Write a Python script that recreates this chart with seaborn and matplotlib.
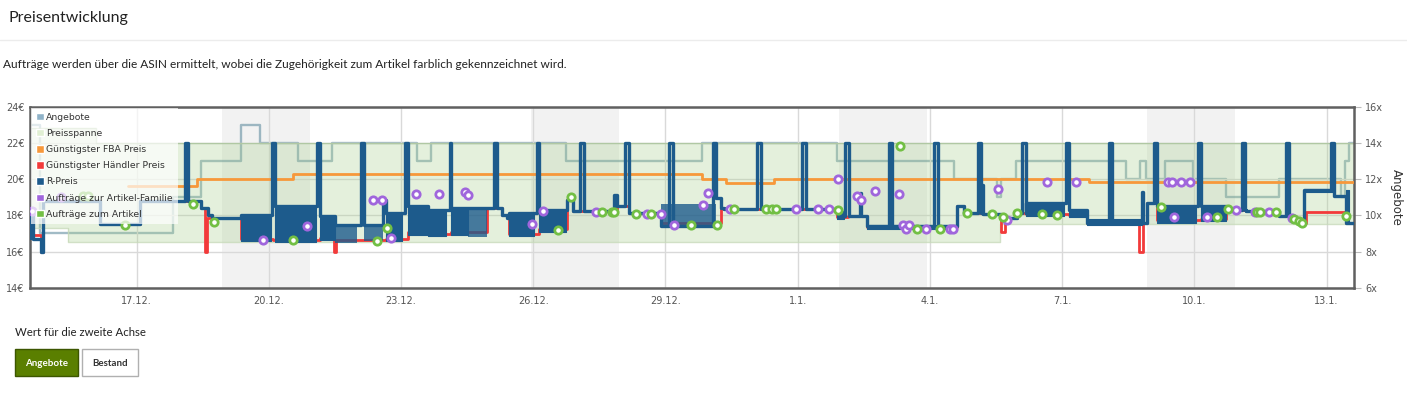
import numpy as np
import pandas as pd
import seaborn as sns
import matplotlib.pyplot as plt
from matplotlib.patches import Patch, Rectangle
from matplotlib.lines import Line2D

# days are offsets from 17.12.2020 00:00
START = pd.Timestamp('2020-12-17')

# R-Preis base steps (without the daily jumps to 22 €)
r_days = [-2.43, -2.36, -2.18, -2.13, -0.84, 0.07, 1.45, 1.61, 1.70, 2.36, 3.15, 4.15, 4.49,
          5.58, 5.65, 6.15, 6.60, 7.14, 8.30, 8.41, 8.46, 9.14, 9.77, 9.89, 10.84, 10.91, 11.18,
          11.90, 13.15, 13.27, 13.33, 15.90, 16.05, 16.42, 16.44, 16.58, 18.62, 18.78, 19.18,
          19.21, 19.61, 19.98, 20.18, 21.16, 21.56, 22.81, 22.83, 22.93, 23.15, 24.72, 25.17,
          25.92, 26.15, 26.28, 26.44, 26.49, 27.17, 27.44, 27.63]
r_prices = [18.3, 16.7, 16.0, 18.8, 17.5, 18.8, 18.4, 18.0, 17.87, 18.03, 18.5, 17.94, 17.48,
            18.86, 18.14, 18.5, 18.31, 18.4, 18.03, 17.87, 18.14, 18.31, 18.86, 18.22, 19.1, 18.5, 18.13,
            17.43, 18.97, 18.4, 18.35, 18.2, 17.94, 19.25, 17.94, 17.39, 18.5, 18.13, 19.7,
            18.09, 17.85, 18.13, 18.7, 18.3, 17.6, 19.3, 17.6, 18.68, 18.5, 18.31, 18.22,
            17.94, 17.9, 17.7, 17.57, 19.4, 19.05, 17.6, 17.6]
# moments where the R-Preis jumps to 22 € for a short time
spike_days = [1.09, 3.08, 4.10, 5.08, 6.10, 7.10, 8.10, 9.09, 10.07, 11.09, 12.09, 13.08, 14.08,
              15.10, 16.08, 17.07, 18.10, 19.09, 20.09, 21.09, 22.06, 23.08, 24.08, 25.08, 26.08, 27.10]
spike_price = 22.0
# phases of fast R-Preis changes: start, end, upper price, lower price
dense_blocks = [(-2.43, -2.36, 18.4, 16.7), (2.36, 3.04, 18.03, 16.56), (3.15, 4.06, 18.5, 16.5),
                (4.15, 4.49, 17.94, 16.65), (5.65, 6.03, 18.14, 16.56), (6.15, 6.60, 18.5, 16.93),
                (6.60, 7.03, 18.31, 16.83), (7.14, 7.51, 18.4, 16.93), (8.46, 9.02, 18.14, 16.83),
                (9.14, 9.75, 18.31, 17.1), (15.90, 16.05, 18.2, 17.8), (16.58, 18.62, 17.48, 17.25),
                (20.18, 21.04, 18.7, 17.94), (21.16, 21.56, 18.3, 17.9), (21.56, 22.81, 17.8, 17.45),
                (23.15, 24.04, 18.5, 17.6), (24.15, 24.72, 18.5, 17.66), (26.49, 27.17, 19.45, 19.3),
                (27.44, 27.50, 19.4, 17.6)]
sparse_blocks = [(4.49, 5.01, 17.48, 16.48), (5.17, 5.58, 17.48, 16.56), (7.51, 7.96, 18.4, 16.8),
                 (11.90, 13.15, 18.6, 17.43)]

# Günstigster Händler Preis
h_days = [-2.43, -2.18, -2.13, -0.84, 0.07, 1.45, 1.55, 1.60, 2.36, 3.10, 4.15, 4.47, 4.52, 5.65,
          6.15, 6.60, 7.14, 7.96, 8.30, 8.46, 9.14, 9.77, 9.89, 10.91, 11.18, 11.90, 13.27, 13.33,
          15.90, 16.15, 16.58, 18.62, 18.78, 19.21, 19.61, 19.70, 19.98, 20.18, 21.16, 21.56, 22.74,
          22.84, 22.93, 23.15, 24.15, 24.72, 25.17, 25.92, 26.15, 26.28, 26.44, 26.53, 27.44, 27.63]
h_prices = [16.9, 16.0, 18.8, 17.5, 18.8, 18.4, 16.0, 17.87, 16.68, 16.62, 16.77, 16.0, 16.62, 16.68,
            17.05, 16.95, 17.05, 18.4, 18.03, 16.95, 17.22, 18.86, 18.22, 18.5, 18.13, 17.55, 18.4, 18.35,
            17.92, 17.94, 17.35, 18.5, 18.13, 18.09, 17.1, 17.85, 18.13, 18.06, 18.02, 17.57, 16.0,
            17.6, 18.68, 17.72, 17.78, 18.31, 18.22, 17.94, 17.9, 17.7, 17.57, 18.18, 17.6, 17.6]

# Günstigster FBA Preis
fba_days = [-0.20, 1.36, 3.54, 12.83, 13.37, 14.46, 21.60, 27.63]
fba_prices = [19.6, 20.0, 20.28, 20.0, 19.8, 20.0, 19.85, 19.85]

# Preisspanne
spanne_days = [-2.43, -1.56, -0.93, 19.59, 27.63]
spanne_low = [17.3, 16.5, 16.5, 17.5, 17.5]
spanne_high = [22.8, 22.8, 22.0, 22.0, 22.0]

# Angebote (second axis)
offer_days = [-2.43, -2.20, 0.82, 1.45, 2.36, 2.81, 3.65, 4.44, 6.37, 6.69, 9.75, 12.83, 15.90,
              18.55, 19.52, 19.61, 19.96, 22.45, 22.77, 22.90, 23.33, 23.97, 24.72, 25.92, 27.32,
              27.41, 27.51, 27.63]
offer_counts = [15, 9, 11, 13, 15, 14, 13, 14, 13, 14, 13, 14, 13,
                12, 11, 12, 13, 12, 13, 12, 13, 12, 11, 12, 11,
                13, 14, 14]

# Aufträge zur Artikel-Familie
fam_days = [-2.38, -1.72, 2.86, 3.86, 5.37, 5.56, 5.78, 6.35, 6.85, 7.46, 7.53, 8.96, 9.23, 10.43,
            11.59, 11.90, 12.20, 12.86, 12.97, 13.47, 14.97, 15.47, 15.71, 15.92, 16.35, 16.44,
            16.76, 17.30, 17.39, 17.46, 17.53, 17.91, 18.46, 18.53, 19.55, 19.76, 20.66, 21.32,
            23.40, 23.49, 23.70, 23.90, 23.54, 24.29, 24.95, 25.37, 25.69, 26.21]
fam_prices = [18.22, 19.03, 16.65, 17.43, 18.82, 18.82, 16.76, 19.16, 19.16, 19.27, 19.14, 17.54, 18.25, 18.18,
              18.09, 18.09, 17.44, 18.57, 19.25, 18.33, 18.33, 18.33, 18.33, 20.0, 19.04, 18.86,
              19.34, 19.16, 17.44, 17.26, 17.44, 17.25, 17.26, 17.26, 19.45, 17.72, 19.85, 19.85,
              19.86, 19.86, 19.86, 19.86, 17.9, 17.9, 18.27, 18.18, 18.18, 17.85]

# Aufträge zum Artikel
art_days = [-1.22, -1.11, -0.27, 1.27, 1.75, 3.54, 5.46, 5.67, 9.57, 9.86, 10.57, 10.79, 10.84,
            11.34, 11.68, 12.59, 13.17, 13.56, 14.29, 14.42, 14.51, 15.92, 17.32, 17.71, 18.23,
            18.84, 19.41, 19.66, 19.98, 20.54, 20.88, 23.24, 24.51, 24.76, 25.42, 25.49, 25.85,
            26.26, 26.37, 26.44, 27.44]
art_prices = [19.05, 19.05, 17.48, 18.64, 17.63, 16.65, 16.58, 17.31, 17.2, 19.01, 18.18, 18.18, 18.18,
              18.09, 18.09, 17.44, 17.44, 18.33, 18.33, 18.33, 18.33, 18.3, 21.81, 17.27, 17.27,
              18.1, 18.09, 17.88, 18.13, 18.05, 17.99, 18.46, 17.88, 18.36, 18.18, 18.18, 18.18,
              17.8, 17.66, 17.57, 17.98]

weekend_days = [1.94, 8.95, 15.94, 22.93]
tick_dates = ['2020-12-17', '2020-12-20', '2020-12-23', '2020-12-26', '2020-12-29',
              '2021-01-01', '2021-01-04', '2021-01-07', '2021-01-10', '2021-01-13']
tick_labels = ['17.12.', '20.12.', '23.12.', '26.12.', '29.12.', '1.1.', '4.1.', '7.1.', '10.1.', '13.1.']
price_ticks = [14, 16, 18, 20, 22, 24]
offer_ticks = [6, 8, 10, 12, 14, 16]

C_BLUE = '#1d5b8c'
C_RED = '#f23a3a'
C_ORANGE = '#f7983a'
C_OFFER = '#6f97a8'
C_SPAN = '#a8d08d'
C_PURPLE = '#a066dc'
C_GREEN = '#72bf44'


def t(d):
    return START + pd.to_timedelta(d, unit='D')


def base_at(d):
    i = np.searchsorted(r_days, d, side='right') - 1
    return r_prices[max(i, 0)]


# merge base steps and the 22 € jumps
pts = list(zip(r_days, r_prices))
for d in spike_days:
    pts.append((d, spike_price))
    pts.append((d + 0.08, base_at(d + 0.08)))
pts.sort()
rp = pd.DataFrame(pts, columns=['day', 'price'])
rp['zeit'] = t(rp['day'])

hp = pd.DataFrame({'zeit': t(pd.Series(h_days)), 'price': h_prices})
fp = pd.DataFrame({'zeit': t(pd.Series(fba_days)), 'price': fba_prices})
op = pd.DataFrame({'zeit': t(pd.Series(offer_days)), 'n': offer_counts})
fam = pd.DataFrame({'zeit': t(pd.Series(fam_days)), 'price': fam_prices})
art = pd.DataFrame({'zeit': t(pd.Series(art_days)), 'price': art_prices})

sns.set_style('white')
plt.rcParams['font.family'] = ['DejaVu Sans']

fig = plt.figure(figsize=(14.07, 3.94), dpi=100)
ax = fig.add_axes([30 / 1407, 1 - 287.7 / 394, 1324.3 / 1407, 181 / 394])
ax2 = ax.twinx()
ax.set_zorder(ax2.get_zorder() + 1)
ax.patch.set_visible(False)

# weekends and offers at the back
for d in weekend_days:
    ax2.axvspan(t(d), t(d + 2), color='#f2f2f2', lw=0, zorder=0)
sns.lineplot(data=op, x='zeit', y='n', drawstyle='steps-post', estimator=None, sort=False,
             color=C_OFFER, lw=1.7, alpha=0.65, ax=ax2, legend=False)
ax2.set_ylim(6, 16)
ax2.set_yticks(offer_ticks)
ax2.set_yticklabels([f'{v}x' for v in offer_ticks], fontsize=7, color='#555555')
ax2.tick_params(axis='y', length=5, width=0.8, color='#bbbbbb', pad=3)
ax2.set_ylabel('Angebote', rotation=270, labelpad=14, fontsize=8.5, color='#333333')
for s in ax2.spines.values():
    s.set_visible(False)

# price chart
ax.fill_between(t(pd.Series(spanne_days)), spanne_low, spanne_high, step='post',
                color=C_SPAN, alpha=0.3, lw=0, zorder=1)
ax.step(t(pd.Series(spanne_days)), spanne_high, where='post', color='#9fbf8f', lw=1, alpha=0.6, zorder=1)
ax.step(t(pd.Series(spanne_days)), spanne_low, where='post', color='#c6d9b8', lw=1, alpha=0.8, zorder=1)

sns.lineplot(data=fp, x='zeit', y='price', drawstyle='steps-post', estimator=None, sort=False,
             color=C_ORANGE, lw=2, ax=ax, legend=False, zorder=3)
sns.lineplot(data=hp, x='zeit', y='price', drawstyle='steps-post', estimator=None, sort=False,
             color=C_RED, lw=2, ax=ax, legend=False, zorder=3)
for s0, s1, hi, lo in dense_blocks:
    ax.fill_between([t(s0), t(s1)], lo, hi, color=C_BLUE, lw=0.8, zorder=4)
for s0, s1, hi, lo in sparse_blocks:
    ax.fill_between([t(s0), t(s1)], lo, hi, color=C_BLUE, alpha=0.8, lw=0, zorder=4)
sns.lineplot(data=rp, x='zeit', y='price', drawstyle='steps-post', estimator=None, sort=False,
             color=C_BLUE, lw=2.4, ax=ax, legend=False, zorder=5)

sns.scatterplot(data=fam, x='zeit', y='price', s=28, color='white', edgecolor=C_PURPLE,
                linewidth=2, ax=ax, legend=False, zorder=6)
sns.scatterplot(data=art, x='zeit', y='price', s=28, color='white', edgecolor=C_GREEN,
                linewidth=2, ax=ax, legend=False, zorder=6)

ax.set_xlim(t(-2.42), t(27.63))
ax.set_ylim(14, 24)
ax.set_yticks(price_ticks)
ax.set_yticklabels([f'{v}€' for v in price_ticks], fontsize=7, color='#555555')
ax.set_xticks(pd.to_datetime(tick_dates))
ax.set_xticklabels(tick_labels, fontsize=7, color='#555555')
ax.tick_params(axis='both', length=0, pad=4)
ax.tick_params(axis='x', pad=6)
ax.set_xlabel('')
ax.set_ylabel('')
ax.grid(True, color='#d9d9d9', lw=1, zorder=0)
for s in ax.spines.values():
    s.set_color('#606060')
    s.set_linewidth(1.8)

handles = [Patch(facecolor='#8fb2c8', label='Angebote'),
           Patch(facecolor='#e0efd3', label='Preisspanne'),
           Patch(facecolor=C_ORANGE, label='Günstigster FBA Preis'),
           Patch(facecolor=C_RED, label='Günstigster Händler Preis'),
           Patch(facecolor=C_BLUE, label='R-Preis'),
           Patch(facecolor=C_PURPLE, label='Aufträge zur Artikel-Familie'),
           Patch(facecolor=C_GREEN, label='Aufträge zum Artikel')]
leg = ax.legend(handles=handles, loc='upper left', bbox_to_anchor=(0.0, 1.0), fontsize=6.7,
                handlelength=0.85, handleheight=0.85, handletextpad=0.2, labelspacing=0.77,
                borderpad=0.55, borderaxespad=0.1, frameon=True, framealpha=0.7,
                facecolor='white', edgecolor='none', fancybox=False)
for txt in leg.get_texts():
    txt.set_color('#333333')
leg.set_zorder(10)

# page texts around the chart
fig.text(8 / 1407, 1 - 18 / 394, 'Preisentwicklung', fontsize=11.5, family=['Lato', 'DejaVu Sans'],
         color='#222222', va='center')
fig.add_artist(Line2D([0, 1], [1 - 40 / 394] * 2, transform=fig.transFigure, color='#ececec', lw=1))
fig.text(3 / 1407, 1 - 64 / 394,
         'Aufträge werden über die ASIN ermittelt, wobei die Zugehörigkeit zum Artikel farblich gekennzeichnet wird.',
         fontsize=8.55, family=['Lato', 'DejaVu Sans'], color='#222222', va='center')
fig.text(15 / 1407, 1 - 333 / 394, 'Wert für die zweite Achse', fontsize=8.2,
         family=['Lato', 'DejaVu Sans'], color='#222222', va='center')
fig.add_artist(Rectangle((15 / 1407, 1 - 376 / 394), 63 / 1407, 27 / 394, transform=fig.transFigure,
                         facecolor='#5a7f00', edgecolor='#3c5600', lw=1))
fig.add_artist(Rectangle((82 / 1407, 1 - 376 / 394), 56 / 1407, 27 / 394, transform=fig.transFigure,
                         facecolor='white', edgecolor='#b0b0b0', lw=1))
fig.text(46.5 / 1407, 1 - 363 / 394, 'Angebote', fontsize=7, weight='bold', family=['Lato', 'DejaVu Sans'],
         color='white', ha='center', va='center')
fig.text(110 / 1407, 1 - 363 / 394, 'Bestand', fontsize=7, weight='bold', family=['Lato', 'DejaVu Sans'],
         color='#333333', ha='center', va='center')

fig.savefig('out.png', dpi=100, facecolor='white')
